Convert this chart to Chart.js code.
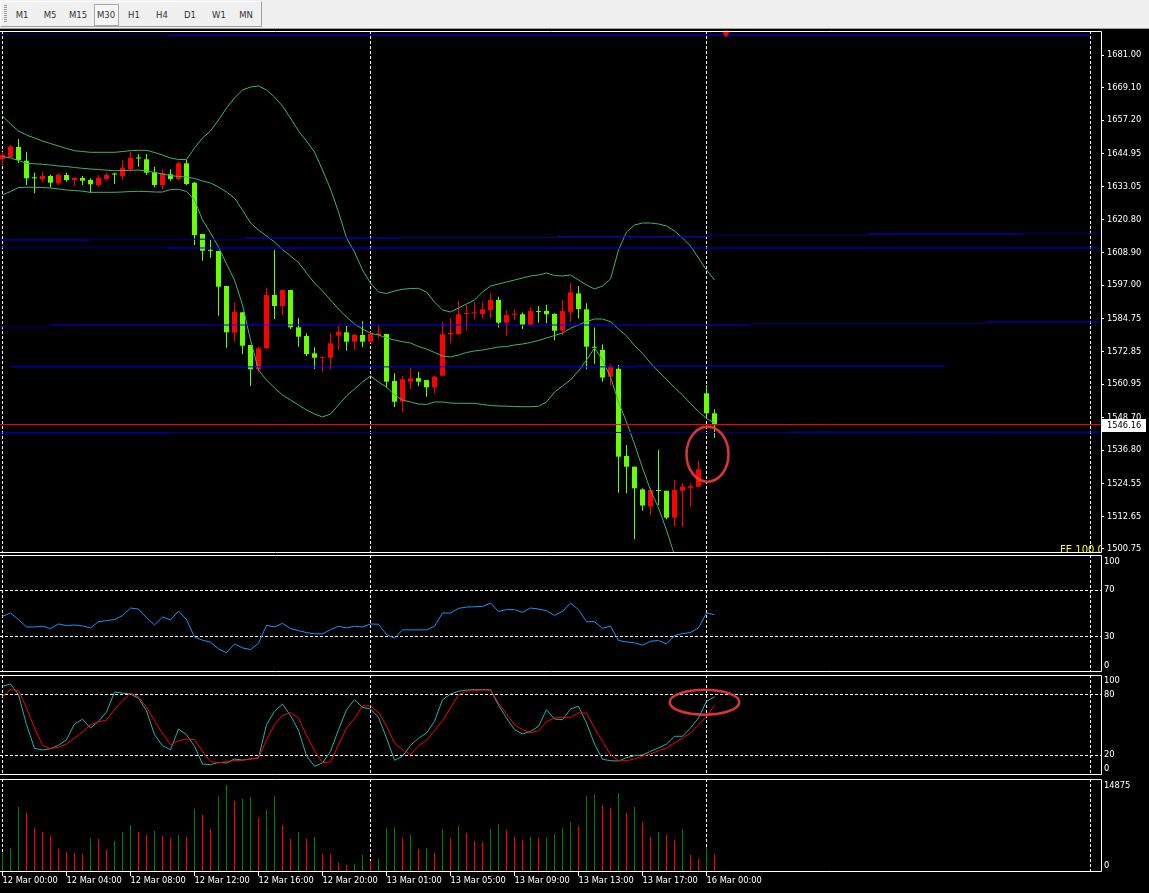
<!DOCTYPE html>
<html>
<head>
<meta charset="utf-8">
<script src="https://cdn.jsdelivr.net/npm/chart.js@4.4.1/dist/chart.umd.min.js"></script>
<style>
  html, body { margin: 0; padding: 0; background: #000; }
  body { width: 1149px; height: 893px; position: relative; overflow: hidden; }
  #toolbar { position: absolute; left: 0; top: 0; width: 1149px; height: 28px; background: #f0f0f0; border-bottom: 1px solid #a0a0a0; }
  #tbox { position: absolute; left: 0; top: 1px; width: 260px; height: 24px; border: 1px solid; border-color: #fff #a0a0a0 #a0a0a0 #fff; }
  #grip { position: absolute; left: 3px; top: 3px; width: 3px; height: 18px; background: repeating-linear-gradient(#9a9a9a 0 1px, transparent 1px 2px); }
  #pressed { position: absolute; left: 93px; top: 2px; width: 23px; height: 20px; border: 1px solid #a8a8a8; background: #f6f6f6; }
  .tf { position: absolute; top: 8px; transform: translateX(-50%); font: 8.5px 'DejaVu Sans', sans-serif; color: #333; line-height: 10px; white-space: nowrap; }
  canvas { position: absolute; left: 0; }
</style>
</head>
<body>
<div id="toolbar">
  <div id="tbox">
    <div id="grip"></div>
    <div id="pressed"></div>
    <span class="tf" style="left:21px">M1</span>
    <span class="tf" style="left:49px">M5</span>
    <span class="tf" style="left:77px">M15</span>
    <span class="tf" style="left:105px">M30</span>
    <span class="tf" style="left:133px">H1</span>
    <span class="tf" style="left:161px">H4</span>
    <span class="tf" style="left:189px">D1</span>
    <span class="tf" style="left:218px">W1</span>
    <span class="tf" style="left:245px">MN</span>
  </div>
</div>
<canvas id="cMain" width="1149" height="525" style="top:29px"></canvas>
<canvas id="cRsi" width="1149" height="120" style="top:554px"></canvas>
<canvas id="cSto" width="1149" height="103" style="top:674px"></canvas>
<canvas id="cVol" width="1149" height="116" style="top:777px"></canvas>
<script>
// ===== DATA (M30 bars, 12 Mar 00:00 .. 16 Mar 00:30) =====
const opens = [
  1643.05,1643.67,1647.43,1642.43,1636.10,1635.65,1636.85,1634.19,1637.21,1635.39,
  1636.12,1635.39,1633.57,1635.75,1637.50,1636.85,1639.29,1643.35,1642.94,1638.20,
  1633.57,1637.47,1635.75,1641.48,1634.41,1615.69,1609.65,1609.48,1596.71,1579.67,
  1587.12,1575.18,1566.32,1573.98,1593.43,1589.42,1595.25,1581.64,1578.47,1572.15,
  1570.50,1570.55,1578.57,1579.82,1576.39,1578.83,1576.39,1578.80,1579.20,1562.05,
  1554.50,1561.80,1563.10,1562.40,1559.75,1563.98,1579.10,1579.20,1586.50,1586.70,
  1586.50,1587.96,1591.60,1583.32,1586.20,1586.40,1582.50,1587.40,1587.60,1586.50,
  1580.40,1587.30,1594.00,1588.20,1574.50,1573.40,1563.60,1566.50,1534.70,1530.78,
  1522.50,1516.30,1522.10,1522.00,1512.20,1522.00,1523.10,1523.48,1557.56,1550.26
];
const highs = [
  1645.61,1648.16,1650.35,1645.72,1638.05,1638.42,1637.30,1637.84,1638.05,1636.30,
  1636.85,1636.01,1637.21,1638.05,1638.05,1642.69,1645.72,1644.88,1644.88,1640.24,
  1639.29,1639.29,1642.07,1642.69,1634.77,1615.69,1613.50,1609.48,1596.71,1590.77,
  1587.12,1575.18,1574.56,1596.09,1609.85,1595.25,1595.25,1584.93,1579.45,1574.33,
  1570.90,1579.45,1582.12,1582.12,1579.20,1583.83,1580.03,1582.80,1579.20,1564.86,
  1563.87,1566.68,1565.40,1562.40,1563.90,1583.69,1584.93,1591.24,1589.78,1591.00,
  1590.80,1594.05,1592.80,1588.00,1588.20,1587.00,1589.00,1589.40,1589.90,1586.80,
  1591.60,1597.70,1596.70,1590.40,1581.60,1575.50,1568.20,1567.90,1538.70,1530.78,
  1522.90,1522.90,1536.87,1522.00,1525.90,1524.70,1524.70,1532.90,1560.59,1551.72
];
const lows = [
  1640.86,1643.67,1641.59,1633.57,1630.54,1634.77,1632.73,1633.57,1634.77,1633.31,
  1633.57,1630.76,1632.95,1635.14,1633.93,1635.39,1638.42,1640.24,1637.21,1632.73,
  1632.00,1635.14,1635.14,1633.57,1611.67,1605.94,1607.04,1585.88,1574.20,1576.39,
  1571.90,1560.22,1565.44,1573.62,1584.67,1586.13,1581.00,1574.56,1571.17,1566.43,
  1565.44,1566.43,1573.36,1573.10,1573.36,1574.33,1575.80,1577.60,1559.75,1552.45,
  1550.85,1559.13,1560.20,1556.32,1557.60,1563.98,1575.80,1578.80,1580.66,1584.60,
  1584.90,1584.90,1581.60,1578.60,1584.30,1581.00,1582.00,1583.30,1583.10,1576.80,
  1578.80,1583.70,1584.90,1566.32,1568.30,1561.80,1560.30,1521.29,1521.10,1504.29,
  1514.70,1513.20,1516.80,1511.60,1508.90,1508.90,1516.20,1523.48,1548.44,1541.36
];
const closes = [
  1644.51,1647.54,1642.69,1636.01,1636.00,1636.85,1634.41,1637.21,1635.39,1636.23,
  1635.14,1633.82,1636.23,1637.21,1637.40,1639.88,1643.53,1643.25,1638.05,1633.57,
  1637.84,1635.75,1641.48,1633.93,1615.32,1609.59,1609.55,1596.46,1579.82,1587.34,
  1574.93,1566.32,1573.98,1593.43,1589.42,1595.25,1581.64,1578.21,1571.90,1570.55,
  1570.60,1575.80,1580.03,1576.39,1578.83,1576.39,1579.20,1579.40,1561.80,1554.50,
  1562.67,1563.00,1561.80,1559.75,1563.60,1579.09,1579.60,1586.39,1586.80,1586.90,
  1588.20,1591.60,1583.32,1586.10,1586.60,1582.50,1587.60,1587.20,1586.40,1580.40,
  1587.60,1594.41,1588.30,1574.57,1574.20,1563.30,1567.30,1534.43,1530.78,1522.90,
  1516.60,1522.30,1521.90,1512.20,1522.30,1523.50,1523.70,1529.83,1550.26,1546.16
];

const bbUpper = [
  1658.74,1655.82,1653.27,1651.81,1650.72,1649.62,1648.71,1647.80,1646.89,1646.08,
  1645.79,1645.50,1645.50,1645.50,1645.50,1645.79,1646.08,1646.23,1646.23,1645.43,
  1644.51,1643.42,1642.87,1642.87,1647.07,1650.72,1653.27,1657.28,1661.66,1665.31,
  1668.23,1669.33,1669.69,1668.23,1665.68,1662.39,1658.01,1653.27,1649.62,1645.61,
  1639.04,1632.11,1623.71,1614.23,1609.12,1602.55,1597.81,1594.53,1593.98,1594.89,
  1595.51,1595.80,1595.87,1594.53,1590.88,1587.96,1587.23,1588.69,1590.15,1591.61,
  1594.53,1596.71,1597.44,1598.17,1598.90,1599.63,1600.36,1600.73,1601.46,1600.55,
  1600.36,1600.73,1598.90,1597.08,1595.62,1596.71,1599.27,1609.85,1616.42,1618.97,
  1619.70,1619.70,1619.34,1618.61,1616.78,1614.23,1611.31,1606.93,1602.55,1598.90
];
const bbMiddle = [
  1643.97,1643.42,1642.51,1641.48,1641.30,1641.12,1640.86,1640.50,1640.32,1639.95,
  1639.66,1639.41,1639.22,1638.97,1638.78,1638.86,1638.93,1639.04,1638.68,1638.13,
  1637.58,1637.03,1636.67,1636.49,1635.94,1635.03,1634.30,1632.84,1631.01,1628.82,
  1624.45,1619.70,1617.15,1614.96,1612.77,1610.03,1607.66,1605.29,1601.46,1597.81,
  1594.89,1591.61,1588.32,1585.40,1582.85,1581.02,1579.46,1578.84,1577.74,1577.01,
  1576.39,1575.92,1574.64,1573.73,1572.45,1571.17,1570.81,1571.54,1572.45,1573.00,
  1573.36,1573.91,1574.46,1574.64,1575.19,1575.55,1576.10,1576.83,1577.74,1578.65,
  1579.57,1581.28,1582.48,1583.76,1584.67,1584.67,1583.69,1581.02,1578.47,1575.00,
  1572.08,1568.62,1565.52,1562.60,1559.68,1556.94,1553.84,1550.92,1548.37,1546.73
];
const bbLower = [
  1629.92,1631.20,1632.65,1632.73,1632.73,1632.65,1632.47,1632.11,1631.74,1631.56,
  1631.30,1630.90,1630.90,1630.90,1630.90,1631.01,1631.20,1631.27,1631.20,1631.01,
  1631.01,1631.93,1632.00,1631.20,1628.09,1620.80,1616.05,1610.94,1604.74,1598.90,
  1589.78,1577.01,1566.06,1562.42,1559.50,1556.94,1555.12,1553.29,1551.47,1550.01,
  1548.92,1550.01,1553.29,1556.58,1559.13,1561.69,1563.88,1561.69,1559.86,1556.94,
  1555.12,1554.39,1553.66,1553.48,1554.39,1554.39,1554.02,1553.91,1553.91,1553.91,
  1553.48,1553.11,1552.93,1552.86,1552.75,1552.67,1552.67,1552.82,1554.39,1558.04,
  1560.23,1562.42,1565.70,1569.71,1574.09,1569.71,1563.51,1554.39,1547.09,1539.06,
  1530.31,1522.28,1515.71,1507.68,1498.56,1491.26,1485.79,1480.32,1475.57,1471.93
];

const rsi = [
  47.6,50.4,44.8,38.5,38.5,39.1,37.1,41.1,39.6,40.2,
  39.4,37.7,43.0,43.9,44.8,48.2,54.7,53.8,46.5,40.2,
  47.0,44.5,52.1,44.8,30.0,27.2,25.5,19.8,16.4,24.0,
  20.6,19.2,24.6,39.9,38.5,41.6,37.1,35.4,33.7,32.6,
  32.6,36.2,39.1,37.7,39.1,38.5,41.1,40.8,32.0,28.9,
  36.0,36.0,36.0,36.0,39.1,50.4,50.4,54.4,55.5,55.8,
  56.1,58.9,51.8,53.3,53.3,51.0,54.7,53.8,52.4,48.4,
  51.8,58.9,53.3,43.0,43.0,37.4,39.1,26.9,25.7,24.9,
  22.9,26.3,26.9,24.0,31.1,32.8,33.7,37.7,50.4,49.0
];
const stochMain = [
  88.7,91.0,80.3,50.3,26.7,25.0,26.3,29.7,35.3,51.0,
  55.7,47.0,53.7,63.0,83.0,82.0,81.0,76.7,64.3,40.3,
  29.3,25.3,46.0,40.3,28.7,11.0,10.3,12.7,12.0,16.0,
  15.0,16.0,17.0,50.3,63.7,71.0,59.3,44.7,19.3,8.7,
  12.0,23.7,45.3,65.3,75.3,67.7,66.0,57.7,37.0,14.7,
  18.7,29.7,36.7,42.0,53.7,75.3,81.0,83.7,85.0,85.3,
  85.3,85.3,69.7,57.0,45.3,41.0,43.7,48.7,65.3,56.0,
  55.3,66.0,68.7,52.0,31.0,15.7,14.3,14.0,17.3,19.3,
  20.0,23.7,27.0,31.0,38.7,38.7,47.0,57.0,73.7,78.3
];
const stochSignal = [
  78.7,85.3,84.7,67.0,47.0,29.7,26.3,27.7,31.0,37.0,
  43.0,50.3,53.0,55.0,65.3,74.3,81.7,78.3,67.7,54.3,
  41.7,30.3,34.3,36.0,35.3,23.7,13.7,12.0,13.7,14.3,
  14.7,16.0,17.0,35.3,50.3,59.7,62.3,57.0,39.7,24.3,
  12.3,13.0,30.3,47.0,56.3,69.3,69.0,62.7,48.7,32.0,
  25.3,20.3,29.3,34.7,44.3,54.3,67.0,80.3,83.7,84.7,
  85.0,85.0,72.0,61.0,50.3,45.3,42.3,44.3,53.3,57.0,
  57.7,57.7,62.0,62.0,47.0,33.7,20.3,14.3,14.3,16.0,
  18.7,21.0,24.3,27.0,32.0,37.0,42.0,50.3,58.3,69.7
];
const volumes = [
  3146,3892,10397,9490,7091,6451,5811,3732,3199,3039,
  2879,5438,5278,3572,4958,6398,7518,6398,5918,6558,
  5758,5438,5918,5651,10130,9117,6878,12156,13916,11356,
  11676,11996,8637,9917,12156,7518,5278,6398,5278,5598,
  2879,2879,1546,1120,1280,2719,1759,2079,7091,7150,
  5438,5918,3679,3839,3039,6878,5438,7358,6238,4958,
  4798,6878,7678,6718,5598,5118,5598,5438,5520,6078,
  7091,7997,7358,12156,12476,10716,10237,12636,9437,10397,
  7997,5598,6398,5918,5118,6878,2719,2079,3946,2879
];

// horizontal levels: [price, from bar, to bar]
const strongLevels = [
  [1688.30, 20.69, 135.94], [1613.50, -0.31, 10.94], [1614.20, 30.31, 49.69],
  [1614.80, 69.31, 88.69], [1615.70, 108.19, 127.56], [1610.58, 20.69, 137.31],
  [1582.48, 5.94, 93.44], [1583.57, 122.81, 137.31], [1567.20, 0.94, 79.06],
  [1567.50, 79.06, 117.81], [1543.10, -0.31, 20.69], [1543.40, 98.44, 137.31]
];
const faintLevels = [
  [1688.50, -0.31, 20.69], [1613.80, 10.94, 30.31], [1614.40, 49.69, 69.31],
  [1615.20, 88.69, 108.19], [1616.00, 127.56, 137.31], [1610.94, -0.31, 20.69],
  [1581.80, -0.31, 5.94], [1583.00, 93.44, 122.81], [1543.25, 20.69, 98.44]
];

const priceTicks = [1681.00,1669.10,1657.20,1644.95,1633.05,1620.80,1608.90,1597.00,1584.75,1572.85,1560.95,1548.70,1536.80,1524.55,1512.65,1500.75];
const rsiTicks = [100, 70, 30, 0];
const stochTicks = [100, 80, 20, 0];
const volTicks = [14875, 0];
const timeLabels = ["12 Mar 00:00","12 Mar 04:00","12 Mar 08:00","12 Mar 12:00","12 Mar 16:00","12 Mar 20:00","13 Mar 01:00","13 Mar 05:00","13 Mar 09:00","13 Mar 13:00","13 Mar 17:00","16 Mar 00:00"];
const timeTickIdx = [0, 8, 16, 24, 32, 40, 48, 56, 64, 72, 80, 88];
const daySeparators = [0, 46, 88, 136];

const shiftMark = [90.44, 1689.0];
const ringMain = { x0: 85.5, x1: 90.75, y0: 1525.3, y1: 1545.4 };
const ringStoch = { x0: 83.4, x1: 92.1, y0: 60.3, y1: 85.3 };
const noteText = "FE 100.0";
const notePos = [132.2, 1501.9];

// ===== SETTINGS =====
const PRICE_MIN = 1499.29, PRICE_MAX = 1689.76;
const X_MIN = -0.3125, X_MAX = 137.3125;
const AXIS_W = 48;
const FONT = "'DejaVu Sans', sans-serif";
const FSIZE = 8.3;
const BULL = "#ff0000";
const BEAR = "#66ff00";

Chart.defaults.font.family = FONT;
Chart.defaults.font.size = FSIZE;

const N = opens.length;
const idx = opens.map((_, i) => i);

// ===== SHARED PLUGIN: separators, dashed levels, frame, rings =====
const panelPlugin = {
  id: "panel",
  beforeDatasetsDraw(chart, args, o) {
    const { ctx, chartArea: a, scales } = chart;
    ctx.save();
    ctx.beginPath();
    ctx.rect(a.left, a.top, a.right - a.left, a.bottom - a.top);
    ctx.clip();
    ctx.strokeStyle = "#ffffff";
    ctx.lineWidth = 1;
    ctx.setLineDash([3, 2]);
    ctx.beginPath();
    daySeparators.forEach(i => {
      const px = Math.floor(scales.x.getPixelForValue(i)) + 0.5;
      ctx.moveTo(px, a.top);
      ctx.lineTo(px, a.bottom);
    });
    (o.levels || []).forEach(v => {
      const py = Math.floor(scales.y.getPixelForValue(v)) + 0.5;
      ctx.moveTo(a.left, py);
      ctx.lineTo(a.right, py);
    });
    ctx.stroke();
    ctx.restore();
  },
  afterDatasetsDraw(chart, args, o) {
    const { ctx, chartArea: a, scales: { x, y } } = chart;
    ctx.save();
    ctx.beginPath();
    ctx.rect(a.left, a.top, a.right - a.left, a.bottom - a.top);
    ctx.clip();
    if (o.note) {
      ctx.fillStyle = "#ffff00";
      ctx.font = "10px " + FONT;
      ctx.textBaseline = "top";
      ctx.fillText(o.note.text, x.getPixelForValue(o.note.at[0]), y.getPixelForValue(o.note.at[1]));
    }
    if (o.ring) {
      const r = o.ring;
      const xl = x.getPixelForValue(r.x0), xr = x.getPixelForValue(r.x1);
      const yt = y.getPixelForValue(r.y1), yb = y.getPixelForValue(r.y0);
      ctx.strokeStyle = "rgba(238,58,58,0.9)";
      ctx.lineWidth = 2.6;
      ctx.beginPath();
      ctx.ellipse((xl + xr) / 2, (yt + yb) / 2, (xr - xl) / 2, (yb - yt) / 2, 0, 0, Math.PI * 2);
      ctx.stroke();
    }
    ctx.restore();
  },
  afterDraw(chart, args, o) {
    const { ctx, chartArea: a, scales: { y } } = chart;
    ctx.save();
    ctx.strokeStyle = "#ffffff";
    ctx.lineWidth = 1;
    ctx.beginPath();
    ctx.moveTo(a.left, a.top + 0.5);
    ctx.lineTo(a.right + 0.5, a.top + 0.5);
    ctx.lineTo(a.right + 0.5, a.bottom - 0.5);
    ctx.lineTo(a.left, a.bottom - 0.5);
    ctx.stroke();
    if (o.lastPrice) {
      const py = Math.round(y.getPixelForValue(o.lastPrice));
      ctx.fillStyle = "#ffffff";
      ctx.fillRect(a.right + 1, py - 6, 44, 13);
      ctx.fillStyle = "#000000";
      ctx.font = FSIZE + "px " + FONT;
      ctx.textBaseline = "middle";
      ctx.fillText(o.lastPrice.toFixed(2), a.right + 6, py + 0.5);
    }
    ctx.restore();
  }
};

// ===== HELPERS =====
function noPad(s) {
  s.paddingTop = 0; s.paddingBottom = 0; s.paddingLeft = 0; s.paddingRight = 0;
}

function xAxis() {
  return {
    type: "linear", min: X_MIN, max: X_MAX, offset: false, bounds: "data", display: false,
    grid: { offset: false }, afterFit: noPad
  };
}

function yAxis(min, max, tickVals, fmt, tickLen, lineHeight) {
  return {
    position: "right", min, max, bounds: "data",
    afterBuildTicks: s => { s.ticks = tickVals.map(v => ({ value: v })); },
    afterFit: s => { s.width = AXIS_W; noPad(s); },
    border: { display: false },
    grid: { drawOnChartArea: false, drawTicks: tickLen > 0, tickLength: tickLen, color: "#ffffff", tickColor: "#ffffff" },
    ticks: {
      color: "#ffffff", padding: 3, autoSkip: false,
      font: { family: FONT, size: FSIZE, lineHeight: lineHeight || 1.2 }, callback: fmt
    }
  };
}

// edge labels sit inside the panel, like the terminal does
function edgeLabel(top, bottom) {
  return v => v === top ? ["", String(v)] : v === bottom ? [String(v), ""] : String(v);
}

function lineSet(values, color, extra) {
  return Object.assign({
    type: "line",
    data: values.map((v, i) => ({ x: i, y: v })),
    borderColor: color, borderWidth: 1, pointRadius: 0, tension: 0, fill: false
  }, extra || {});
}

function levelSet(level, color) {
  return {
    type: "line",
    data: [{ x: level[1], y: level[0] }, { x: level[2], y: level[0] }],
    borderColor: color, borderWidth: 1, pointRadius: 0, fill: false
  };
}

const baseOptions = (padTop, padBottom) => ({
  responsive: false,
  animation: false,
  events: [],
  layout: { autoPadding: false, padding: { top: padTop, bottom: padBottom, left: 0, right: 0 } },
  plugins: { legend: { display: false }, tooltip: { enabled: false } }
});

// ===== MAIN PRICE PANEL =====
const candleColor = idx.map(i => closes[i] < opens[i] ? BEAR : BULL);
const bodies = idx.map(i => ({ x: i, y: [Math.min(opens[i], closes[i]), Math.max(opens[i], closes[i])] }));
const wicks = idx.map(i => ({ x: i, y: [lows[i], highs[i]] }));

const mainOpts = baseOptions(2, 1);
mainOpts.scales = {
  x: xAxis(),
  y: yAxis(PRICE_MIN, PRICE_MAX, priceTicks, v => v.toFixed(2), 3)
};
mainOpts.plugins.panel = { lastPrice: closes[N - 1], ring: ringMain, note: { text: noteText, at: notePos } };

new Chart(document.getElementById("cMain"), {
  type: "bar",
  data: {
    datasets: [
      {
        type: "line", data: [{ x: shiftMark[0], y: shiftMark[1] }], showLine: false,
        pointStyle: "triangle", rotation: 180, pointRadius: 4,
        pointBackgroundColor: "#ff0000", pointBorderColor: "#ff0000", clip: false
      },
      lineSet([], "#ff0000", {
        data: [{ x: X_MIN, y: closes[N - 1] }, { x: X_MAX, y: closes[N - 1] }]
      }),
      ...strongLevels.map(l => levelSet(l, "#0000ff")),
      ...faintLevels.map(l => levelSet(l, "#00007a")),
      lineSet(bbUpper, "#3cb371"),
      lineSet(bbMiddle, "#3cb371"),
      lineSet(bbLower, "#3cb371"),
      {
        data: bodies, backgroundColor: candleColor, barThickness: 5, grouped: false,
        minBarLength: 1, inflateAmount: 0, borderWidth: 0
      },
      {
        data: wicks, backgroundColor: candleColor, barThickness: 1, grouped: false,
        inflateAmount: 0, borderWidth: 0
      }
    ]
  },
  options: mainOpts,
  plugins: [panelPlugin]
});

// ===== RSI =====
const rsiOpts = baseOptions(1, 2);
rsiOpts.scales = { x: xAxis(), y: yAxis(0, 100, rsiTicks, edgeLabel(100, 0), 0, 1.6) };
rsiOpts.plugins.panel = { levels: [70, 30] };
new Chart(document.getElementById("cRsi"), {
  type: "line",
  data: { datasets: [lineSet(rsi, "#1e90ff")] },
  options: rsiOpts,
  plugins: [panelPlugin]
});

// ===== STOCHASTIC =====
const stoOpts = baseOptions(1, 2);
stoOpts.scales = { x: xAxis(), y: yAxis(0, 100, stochTicks, edgeLabel(100, 0), 0, 1.5) };
stoOpts.plugins.panel = { levels: [80, 20], ring: ringStoch };
new Chart(document.getElementById("cSto"), {
  type: "line",
  data: { datasets: [lineSet(stochSignal, "#ff0000"), lineSet(stochMain, "#20b2aa")] },
  options: stoOpts,
  plugins: [panelPlugin]
});

// ===== VOLUMES =====
const volColor = volumes.map((v, i) => i === 0 || v > volumes[i - 1] ? "#008000" : "#ff0000");
const volOpts = baseOptions(2, 0);
const vx = xAxis();
Object.assign(vx, {
  display: true, position: "bottom",
  afterBuildTicks: s => { s.ticks = timeTickIdx.map(v => ({ value: v })); },
  afterFit: s => { s.height = 21; noPad(s); },
  border: { display: false },
  grid: { offset: false, drawOnChartArea: false, tickLength: 4, color: "#ffffff", tickColor: "#ffffff" },
  ticks: {
    color: "#ffffff", padding: 0, align: "start", maxRotation: 0, minRotation: 0, autoSkip: false,
    font: { family: FONT, size: FSIZE },
    callback: v => timeLabels[timeTickIdx.indexOf(v)]
  }
});
volOpts.scales = { x: vx, y: yAxis(0, 14875, volTicks, edgeLabel(14875, 0), 0, 1.6) };
volOpts.plugins.panel = {};
new Chart(document.getElementById("cVol"), {
  type: "bar",
  data: {
    datasets: [{
      data: volumes.map((v, i) => ({ x: i, y: v })),
      backgroundColor: volColor, barThickness: 1, inflateAmount: 0, borderWidth: 0
    }]
  },
  options: volOpts,
  plugins: [panelPlugin]
});
</script>
</body>
</html>
